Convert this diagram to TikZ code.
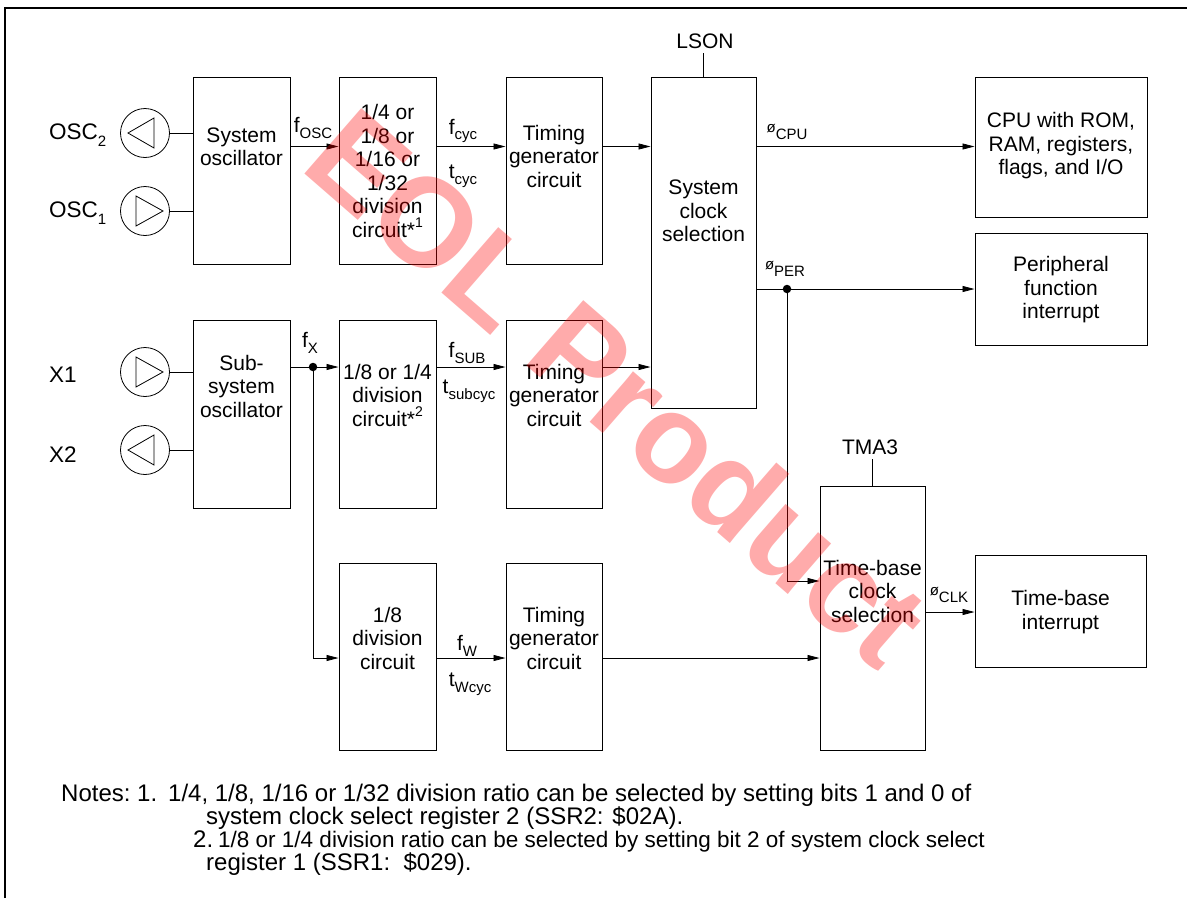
\documentclass[tikz,border=0pt]{standalone}
\usepackage{fontspec}
\setmainfont{Liberation Sans}
\usetikzlibrary{arrows.meta, positioning, calc}

\tikzset{
  blk/.style 2 args={draw, line width=1pt, inner sep=0pt, minimum width=#1, minimum height=#2},
  lbl/.style={align=center, inner sep=1pt, font=\fontsize{21}{23.5}\selectfont},
  pin/.style={anchor=west, inner sep=1pt, font=\fontsize{22.5}{24}\selectfont},
  arr/.style={-{Triangle[length=12pt,width=6pt]}, line width=0.8pt},
  wire/.style={line width=0.8pt},
  osc/.style={circle, draw, line width=0.8pt, minimum size=49pt, inner sep=0pt},
  jdot/.style={circle, fill, inner sep=0pt, minimum size=8.5pt},
  note/.style={anchor=base west, inner sep=0pt, font=\fontsize{24}{25}\selectfont},
}
\newcommand{\sg}[2]{#1\raisebox{-0.28em}{\fontsize{15}{15}\selectfont #2}}
\newcommand{\ph}[1]{{\fontsize{15}{15}\selectfont ø}\raisebox{-0.3em}{\fontsize{15}{15}\selectfont #1}}
\newcommand{\nt}[1]{\raisebox{0.45em}{\fontsize{14}{14}\selectfont #1}}

\begin{document}
\begin{tikzpicture}[x=1pt, y=-1pt]
  \useasboundingbox (0,0) rectangle (1187,898);
  \draw[line width=1.2pt] (5,898) -- (5,8) -- (1187,8);

  % oscillator inputs
  \node[osc] (osc2) at (145,133) {};
  \node[osc] (osc1) at (145,211) {};
  \node[osc] (x1) at (145,372) {};
  \node[osc] (x2) at (145,450) {};
  \draw[line width=0.8pt] (osc2.center) ++(-17,0) -- ++(26,-15) -- ++(0,30) -- cycle;
  \draw[line width=0.8pt] (x2.center) ++(-17,0) -- ++(26,-15) -- ++(0,30) -- cycle;
  \draw[line width=0.8pt] (osc1.center) ++(18,0) -- ++(-27,-15) -- ++(0,30) -- cycle;
  \draw[line width=0.8pt] (x1.center) ++(18,0) -- ++(-27,-15) -- ++(0,30) -- cycle;
  \node[pin] (losc2) at (48,135) {\sg{OSC}{2}};
  \node[pin] (losc1) at (48,213) {\sg{OSC}{1}};
  \node[pin] (lx1) at (48,375) {X1};
  \node[pin] (lx2) at (48,455) {X2};

  % blocks
  \node[blk={97pt}{187pt}] (sysosc) at (241.5,170.5) {};
  \node[blk={97pt}{187pt}] (div1) at (387.5,170.5) {};
  \node[blk={96pt}{187pt}] (tim1) at (554,170.5) {};
  \node[blk={105pt}{331pt}] (sysclk) at (703.5,242.5) {};
  \node[blk={172pt}{140pt}] (cpu) at (1061,147) {};
  \node[blk={172pt}{112pt}] (per) at (1061,289) {};
  \node[blk={97pt}{188pt}] (subosc) at (241.5,414) {};
  \node[blk={97pt}{188pt}] (div2) at (387.5,414) {};
  \node[blk={96pt}{188pt}] (tim2) at (554,414) {};
  \node[blk={97pt}{187pt}] (div3) at (387.5,656.5) {};
  \node[blk={96pt}{187pt}] (tim3) at (554,656.5) {};
  \node[blk={105pt}{264pt}] (tbsel) at (872.5,618) {};
  \node[blk={171pt}{112pt}] (tbint) at (1060.5,611) {};

  % block texts
  \node[lbl] (sysoscT) at (241.5,147) {System\\oscillator};
  \node[lbl] (div1T) at (387.5,171) {1/4 or\\1/8 or\\1/16 or\\1/32\\division\\circuit*\nt{1}};
  \node[lbl] (tim1T) at (554,156) {Timing\\generator\\circuit};
  \node[lbl] (sysclkT) at (703.5,211) {System\\clock\\selection};
  \node[lbl] (cpuT) at (1061,146) {CPU with ROM,\\RAM, registers,\\flags, and I/O};
  \node[lbl] (perT) at (1061,290) {Peripheral\\function\\interrupt};
  \node[lbl] (suboscT) at (241.5,386) {Sub-\\system\\oscillator};
  \node[lbl] (div2T) at (387.5,395) {1/8 or 1/4\\division\\circuit*\nt{2}};
  \node[lbl] (tim2T) at (554,395) {Timing\\generator\\circuit};
  \node[lbl] (div3T) at (387.5,638) {1/8\\division\\circuit};
  \node[lbl] (tim3T) at (554,638) {Timing\\generator\\circuit};
  \node[lbl] (tbselT) at (872.5,591) {Time-base\\clock\\selection};
  \node[lbl] (tbintT) at (1060.5,612) {Time-base\\interrupt};

  % control inputs
  \node[lbl, inner sep=4pt] (lson) at (705,41) {LSON};
  \node[lbl, inner sep=4pt] (tma3) at (870,447) {TMA3};
  \draw[wire] (sysclk.north) -- (sysclk.north |- lson.south);
  \draw[wire] (tbsel.north) -- (tbsel.north |- tma3.south);

  % signal levels
  \coordinate (r1) at (0,146.5);
  \coordinate (r2) at (0,367);
  \coordinate (r3) at (0,658);
  \coordinate (rtb) at (0,581);
  \coordinate (rclk) at (0,612);

  \draw[wire] (osc2.east) -- (sysosc.west |- osc2.east);
  \draw[wire] (osc1.east) -- (sysosc.west |- osc1.east);
  \draw[wire] (x1.east) -- (subosc.west |- x1.east);
  \draw[wire] (x2.east) -- (subosc.west |- x2.east);

  \draw[arr] (sysosc.east |- r1) -- (div1.west |- r1);
  \draw[arr] (div1.east |- r1) -- (tim1.west |- r1);
  \draw[arr] (tim1.east |- r1) -- (sysclk.west |- r1);
  \draw[arr] (sysclk.east |- r1) -- (cpu.west |- r1);

  \node[jdot] (jper) at (787,289) {};
  \draw[wire] (sysclk.east |- jper) -- (jper);
  \draw[arr] (jper) -- (per.west |- jper);
  \draw[arr] (jper) |- (tbsel.west |- rtb);

  \node[jdot] (jx) at (313,367) {};
  \draw[wire] (subosc.east |- jx) -- (jx);
  \draw[arr] (jx) -- (div2.west |- jx);
  \draw[arr] (jx) |- (div3.west |- r3);
  \draw[arr] (div2.east |- r2) -- (tim2.west |- r2);
  \draw[arr] (tim2.east |- r2) -- (sysclk.west |- r2);

  \draw[arr] (div3.east |- r3) -- (tim3.west |- r3);
  \draw[arr] (tim3.east |- r3) -- (tbsel.west |- r3);
  \draw[arr] (tbsel.east |- rclk) -- (tbint.west |- rclk);

  % signal names
  \node[lbl] (fosc) at (313,128) {\sg{f}{OSC}};
  \node[lbl] (fcyc) at (463,131) {\sg{f}{cyc}};
  \node[lbl] (tcyc) at (463,176) {\sg{t}{cyc}};
  \node[lbl] (fx) at (310,343) {\sg{f}{X}};
  \node[lbl] (fsub) at (467,353) {\sg{f}{SUB}};
  \node[lbl] (tsub) at (469,391) {\sg{t}{subcyc}};
  \node[lbl] (fw) at (467,646) {\sg{f}{W}};
  \node[lbl] (twcyc) at (470,684) {\sg{t}{Wcyc}};
  \node[lbl] (phcpu) at (787,132) {\ph{CPU}};
  \node[lbl] (phper) at (785,269) {\ph{PER}};
  \node[lbl] (phclk) at (949,595) {\ph{CLK}};

  % notes
  \node[note] (nhead) at (61,801) {Notes:};
  \node[note] (n1) at (137,801) {1.};
  \node[note] (n1a) at (168,801) {1/4, 1/8, 1/16 or 1/32 division ratio can be selected by setting bits 1 and 0 of};
  \node[note] (n1b) at (206,824) {system clock select register 2 (SSR2: \$02A).};
  \node[note] (n2) at (193,847) {2.};
  \node[note, font=\fontsize{22.5}{25}\selectfont] (n2a) at (218,847) {1/8 or 1/4 division ratio can be selected by setting bit 2 of system clock select};
  \node[note] (n2b) at (206,870) {register 1 (SSR1:\ \ \$029).};

  % watermark
  \node[text=red, text opacity=0.33, rotate=-41, anchor=base west, inner sep=0pt,
        font=\bfseries\fontsize{126}{126}\selectfont] (eol) at (298,168) {EOL Product};
\end{tikzpicture}
\end{document}
